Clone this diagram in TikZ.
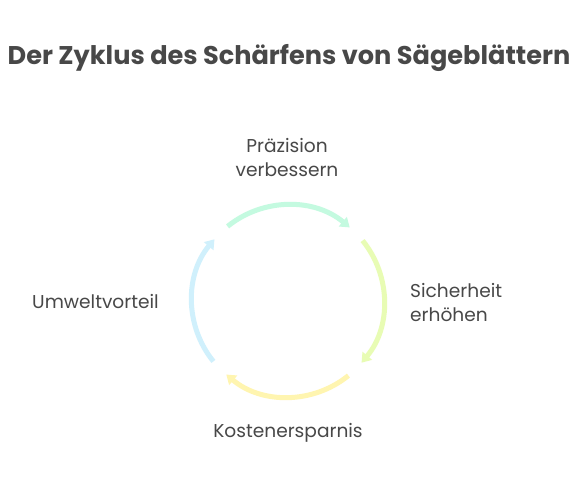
\documentclass[tikz,border=0pt]{standalone}
\usepackage{fontspec}
\setmainfont{Poppins}
\usetikzlibrary{arrows.meta,calc}
\definecolor{txt}{HTML}{484848}
\definecolor{cmint}{HTML}{C4FAE0}
\definecolor{clime}{HTML}{E8FCB4}
\definecolor{cyel}{HTML}{FFF5B0}
\definecolor{ccyan}{HTML}{D0F0FC}
\tikzset{
  cyc/.style={line width=5pt, -{Triangle[length=9pt,width=12pt]}},
  lbl/.style={text=txt, font=\fontsize{18.6}{24}\selectfont, inner sep=0pt},
}
\begin{document}
\begin{tikzpicture}[x=1pt,y=1pt]
\useasboundingbox (0,0) rectangle (576,494);
\fill[white] (0,0) rectangle (576,494);
\coordinate (c) at (288,193);
\node[text=txt, font=\fontsize{25.6}{30}\selectfont\bfseries, inner sep=0pt] (title) at (289,436) {Der Zyklus des Schärfens von Sägeblättern};
\draw[cyc, cmint] ($(c)+(129:96)$) arc[start angle=129, end angle=50, radius=96];
\draw[cyc, clime] ($(c)+(39:96)$) arc[start angle=39, end angle=-40, radius=96];
\draw[cyc, cyel] ($(c)+(-51:96)$) arc[start angle=-51, end angle=-130, radius=96];
\draw[cyc, ccyan] ($(c)+(-141:96)$) arc[start angle=-141, end angle=-220, radius=96];
\node[lbl, align=center] (p) at (287,336) {Präzision\\verbessern};
\node[lbl, align=left, anchor=west] (s) at (410,191) {Sicherheit\\erhöhen};
\node[lbl] (k) at (288,61) {Kostenersparnis};
\node[lbl, anchor=west] (u) at (32,192) {Umweltvorteil};
\end{tikzpicture}
\end{document}
